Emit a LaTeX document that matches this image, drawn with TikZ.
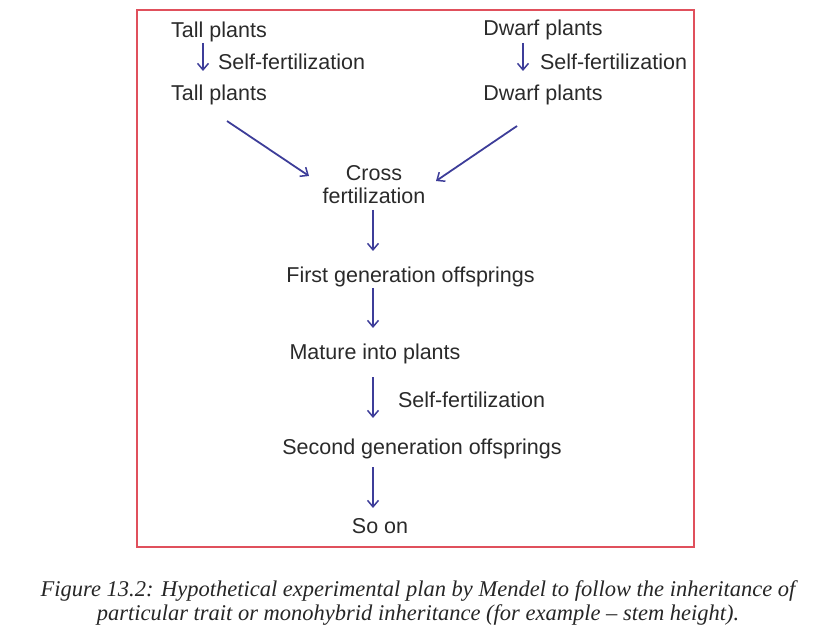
\documentclass[tikz,border=0pt]{standalone}
\usepackage{fontspec}
\setmainfont{Liberation Sans}
\newfontfamily\capfont{Liberation Serif}
\usetikzlibrary{arrows.meta}
\definecolor{txt}{HTML}{2A2A2A}
\definecolor{arrc}{HTML}{3D3D99}
\definecolor{frame}{HTML}{E0505C}
\tikzset{
  lbl/.style={inner sep=0pt, text=txt, font=\fontsize{21.5}{23}\selectfont},
  arr/.style={draw=arrc, line width=1.8pt, -{Straight Barb[length=6.5pt,width=11pt,line width=1.5pt]}},
  captext/.style={inner sep=0pt, text=black!85, font=\capfont\itshape\fontsize{22.5}{24}\selectfont}
}
\begin{document}
\begin{tikzpicture}[x=1pt,y=-1pt]
\useasboundingbox (0,0) rectangle (817,631);
\node[draw=frame, line width=1.3pt, minimum width=557pt, minimum height=537pt, inner sep=0pt] (box) at (415.5,278.5) {};
% left column
\node[lbl] (tall1) at (219,32) {Tall plants};
\node[lbl] (self1) at (291.5,62) {Self-fertilization};
\node[lbl] (tall2) at (219,95) {Tall plants};
% right column
\node[lbl] (dwarf1) at (543,30) {Dwarf plants};
\node[lbl] (self2) at (613.5,62) {Self-fertilization};
\node[lbl] (dwarf2) at (543,95) {Dwarf plants};
% center
\node[lbl, align=center] (cross) at (374,185) {Cross\\fertilization};
\node[lbl] (first) at (410.5,277) {First generation offsprings};
\node[lbl] (mature) at (375,354) {Mature into plants};
\node[lbl] (self3) at (471.5,400) {Self-fertilization};
\node[lbl] (second) at (422,449) {Second generation offsprings};
\node[lbl] (soon) at (380,526) {So on};
% arrow end points
\coordinate (a1s) at (203,43);  \coordinate (a1e) at (203,71);
\coordinate (a2s) at (523,43);  \coordinate (a2e) at (523,71);
\coordinate (d1s) at (227,121); \coordinate (d1e) at (309,176);
\coordinate (d2s) at (517,126); \coordinate (d2e) at (436,181);
\coordinate (m1s) at (373,210); \coordinate (m1e) at (373,251);
\coordinate (m2s) at (373,288); \coordinate (m2e) at (373,328);
\coordinate (m3s) at (373,377); \coordinate (m3e) at (373,418);
\coordinate (m4s) at (373,467); \coordinate (m4e) at (373,508);
\draw[arr] (a1s) -- (a1e);
\draw[arr] (a2s) -- (a2e);
\draw[arr] (d1s) -- (d1e);
\draw[arr] (d2s) -- (d2e);
\draw[arr] (m1s) -- (m1e);
\draw[arr] (m2s) -- (m2e);
\draw[arr] (m3s) -- (m3e);
\draw[arr] (m4s) -- (m4e);
% caption
\node[captext] (cap1) at (418,591) {Figure 13.2: Hypothetical experimental plan by Mendel to follow the inheritance of};
\node[captext] (cap2) at (418,615) {particular trait or monohybrid inheritance (for example – stem height).};
\end{tikzpicture}
\end{document}
